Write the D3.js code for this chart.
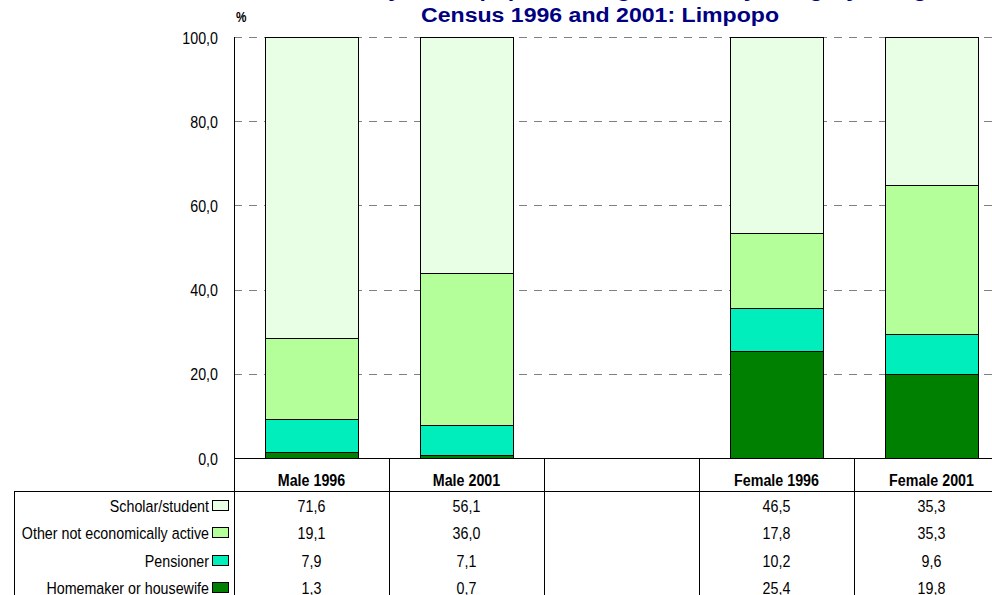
<!DOCTYPE html>
<meta charset="utf-8">
<style>
  body { margin: 0; background: #fff; }
  svg text { font-family: "Liberation Sans", Arial, sans-serif; }
  .grid line { stroke: #808080; stroke-dasharray: 8,7; shape-rendering: crispEdges; }
  .tbl line { stroke: #000; shape-rendering: crispEdges; }
  rect { shape-rendering: crispEdges; }
</style>
<body>
<script src="https://d3js.org/d3.v7.min.js"></script>
<script>
// chart values
var categories = ["Male 1996", "Male 2001", "", "Female 1996", "Female 2001"];
var seriesNames = ["Scholar/student", "Other not economically active", "Pensioner", "Homemaker or housewife"];
var scholar   = [71.6, 56.1, null, 46.5, 35.3];
var otherNEA  = [19.1, 36.0, null, 17.8, 35.3];
var pensioner = [7.9, 7.1, null, 10.2, 9.6];
var homemaker = [1.3, 0.7, null, 25.4, 19.8];
var yTicks = [0, 20, 40, 60, 80, 100];
var titleLines = ["Not economically active population aged 15-65 by category and gender", "Census 1996 and 2001: Limpopo"];

(function(){
  var W = 992, H = 595,
      left = 234, right = 1009, top = 37, bottom = 458,
      rowTop = 491.5, rowH = 27.3,
      k = 0.84; // narrow text squeeze

  var colors = {"Scholar/student": "#e8ffe6", "Other not economically active": "#b4ff9a",
                "Pensioner": "#00eebb", "Homemaker or housewife": "#008000"};
  var values = {"Scholar/student": scholar, "Other not economically active": otherNEA,
                "Pensioner": pensioner, "Homemaker or housewife": homemaker};

  var svg = d3.select("body").append("svg").attr("width", W).attr("height", H);

  // narrow text: place at (x,y) then squeeze horizontally
  function txt(g, x, y, s, anchor, bold, sx) {
    return g.append("text")
      .attr("transform", "translate(" + x + "," + y + ") scale(" + (sx || k) + ",1)")
      .attr("text-anchor", anchor || "middle")
      .attr("font-size", 17).attr("font-weight", bold ? "bold" : null)
      .text(s);
  }

  var x = d3.scaleBand().domain(d3.range(categories.length)).range([left, right])
            .paddingInner(0.4).paddingOuter(0.2);
  var y = d3.scaleLinear().domain([0, 100]).range([bottom, top]);
  var fmt = function(v) { return v == null ? "" : d3.format(".1f")(v).replace(".", ","); };

  // gridlines
  svg.append("g").attr("class", "grid")
     .selectAll("line").data(yTicks.filter(function(d){ return d > 0; })).enter()
     .append("line")
     .attr("x1", left).attr("x2", right)
     .attr("y1", function(d){ return Math.round(y(d)) + 0.5; })
     .attr("y2", function(d){ return Math.round(y(d)) + 0.5; });

  // stacked bars (bottom first)
  var rows = categories.map(function(c, i) {
    var r = {i: i};
    seriesNames.forEach(function(s){ r[s] = values[s][i] || 0; });
    return r;
  });
  var stack = d3.stack().keys(seriesNames.slice().reverse())(rows);
  svg.append("g").selectAll("g").data(stack).enter().append("g")
     .attr("fill", function(d){ return colors[d.key]; })
     .selectAll("rect").data(function(d){ return d.filter(function(p){ return p[1] > p[0]; }); })
     .enter().append("rect")
     .attr("x", function(d){ return x(d.data.i); })
     .attr("width", x.bandwidth())
     .attr("y", function(d){ return y(d[1]); })
     .attr("height", function(d){ return y(d[0]) - y(d[1]); })
     .attr("stroke", "#000").attr("stroke-width", 1);

  // y axis
  var yAxis = svg.append("g").attr("transform", "translate(" + left + ",0)")
     .call(d3.axisLeft(y).tickValues(yTicks).tickSize(0).tickPadding(16).tickFormat(fmt));
  yAxis.select(".domain").remove();
  yAxis.selectAll("text")
       .attr("font-size", 17).attr("fill", "#000")
       .attr("x", -16 / k).attr("dy", "0.36em")
       .attr("transform", "scale(" + k + ",1)")
       .style("font-family", "'Liberation Sans', Arial, sans-serif");
  svg.append("line").attr("x1", left + 0.5).attr("x2", left + 0.5).attr("y1", top).attr("y2", bottom)
     .attr("stroke", "#000");
  txt(svg, 236, 22, "%", "start", true).attr("font-size", 14);

  // title (first line runs off the top edge)
  titleLines.forEach(function(t, i) {
    txt(svg, 600, -3.5 + i * 25.5, t, "middle", true, 1.1).attr("fill", "#000080").attr("font-size", 21);
  });

  // data table
  var tbl = svg.append("g").attr("class", "tbl");
  tbl.append("line").attr("x1", left).attr("x2", W).attr("y1", bottom + 0.5).attr("y2", bottom + 0.5);
  tbl.append("line").attr("x1", 14).attr("x2", W).attr("y1", rowTop).attr("y2", rowTop).attr("stroke", "#555");
  tbl.append("line").attr("x1", 14.5).attr("x2", 14.5).attr("y1", rowTop).attr("y2", H).attr("stroke", "#555");
  var edges = d3.range(categories.length + 1).map(function(i){ return left + i * x.step() + 0.5; });
  tbl.selectAll(".v").data(edges).enter().append("line")
     .attr("x1", function(d){ return d; }).attr("x2", function(d){ return d; })
     .attr("y1", bottom).attr("y2", H);

  categories.forEach(function(c, i) {
    txt(tbl, x(i) + x.bandwidth() / 2, 486, c, "middle", true);
  });

  seriesNames.forEach(function(s, r) {
    var base = rowTop + r * rowH + 20.5;
    txt(tbl, 209, base, s, "end");
    tbl.append("rect").attr("x", 212.5).attr("y", Math.round(base - 12) + 0.5).attr("width", 16).attr("height", 10)
       .attr("fill", colors[s]).attr("stroke", "#000");
    values[s].forEach(function(v, i) {
      txt(tbl, x(i) + x.bandwidth() / 2, base, fmt(v), "middle");
    });
  });
})();
</script>
</body>
